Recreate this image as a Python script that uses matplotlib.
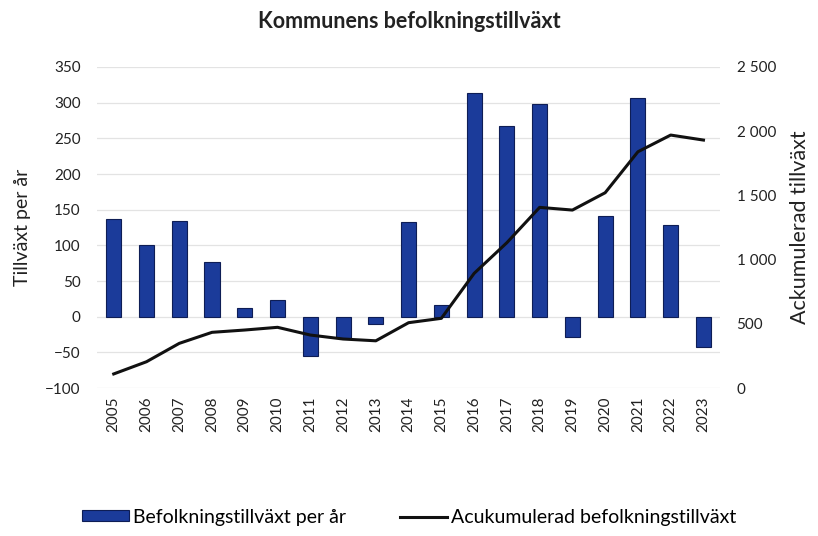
import matplotlib.pyplot as plt
import matplotlib.ticker as mticker
import numpy as np

plt.rcParams['font.family'] = ['Lato', 'DejaVu Sans']
plt.rcParams['font.size'] = 11

# Données
years = [str(y) for y in range(2005, 2024)]
tillvaxt = [137, 100, 134, 77, 12, 23, -55, -30, -10, 133,
            17, 314, 267, 298, -28, 141, 307, 128, -43]
ackumulerad = [110, 205, 348, 434, 452, 473, 413, 382, 368, 509,
               543, 893, 1132, 1407, 1386, 1521, 1840, 1970, 1931]

bar_color = '#1b3b9a'
edge_color = '#0e1d55'

fig = plt.figure(figsize=(8.18, 5.36), dpi=100)
ax = fig.add_axes([0.119, 0.276, 0.761, 0.599])
ax2 = ax.twinx()

x = np.arange(len(years))
bars = ax.bar(x, tillvaxt, width=0.46, color=bar_color, edgecolor=edge_color,
              linewidth=0.8, zorder=3, label='Befolkningstillväxt per år')
line, = ax2.plot(x, ackumulerad, color='#111111', linewidth=2.2, zorder=4,
                 label='Acukumulerad befolkningstillväxt')

ax.set_xlim(-0.5, len(years) - 0.5)
ax.set_ylim(-100, 350)
ax.set_yticks(np.arange(-100, 351, 50))
ax2.set_ylim(0, 2500)
ax2.set_yticks(np.arange(0, 2501, 500))
ax2.yaxis.set_major_formatter(
    mticker.FuncFormatter(lambda v, p: f"{int(v):,}".replace(',', ' ')))

ax.set_xticks(x)
ax.set_xticklabels(years, rotation=90, fontsize=11, color='#222222')
ax.tick_params(axis='y', labelsize=11, colors='#222222', length=0, pad=12)
ax2.tick_params(axis='y', labelsize=11, colors='#222222', length=0, pad=12)
ax.tick_params(axis='x', length=0, pad=6)

ax.grid(axis='y', color='#e3e3e3', linewidth=0.9, zorder=0)
for a in (ax, ax2):
    for s in a.spines.values():
        s.set_visible(False)

ax.set_ylabel('Tillväxt per år', fontsize=14, color='#222222', labelpad=10)
ax2.set_ylabel('Ackumulerad tillväxt', fontsize=15.5, color='#222222', labelpad=10)

fig.suptitle('Kommunens befolkningstillväxt', fontsize=15.5, fontweight='bold',
             y=0.98, x=0.5, color='#222222')

fig.legend(handles=[bars, line], loc='center', bbox_to_anchor=(0.5, 0.035),
           ncol=2, frameon=False, fontsize=14, columnspacing=2.8,
           handlelength=2.4, handleheight=0.5, handletextpad=0.2)

fig.savefig('out.png', dpi=100)
